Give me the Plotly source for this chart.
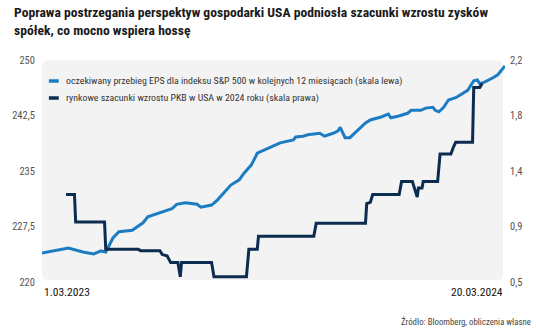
import plotly.graph_objects as go

# Expected S&P 500 EPS over the next 12 months (left scale)
eps_dates = [
    "2023-03-01", "2023-03-07", "2023-03-13", "2023-03-23", "2023-04-04", "2023-04-13",
    "2023-04-19", "2023-04-23", "2023-04-29", "2023-05-04", "2023-05-15", "2023-05-19",
    "2023-05-24", "2023-05-28", "2023-06-09", "2023-06-17", "2023-06-21", "2023-06-28",
    "2023-07-08", "2023-07-11", "2023-07-20", "2023-07-25", "2023-08-05", "2023-08-12",
    "2023-08-16", "2023-08-22", "2023-08-27", "2023-08-31", "2023-09-07", "2023-09-15",
    "2023-09-26", "2023-09-28", "2023-10-04", "2023-10-08", "2023-10-18", "2023-10-22",
    "2023-10-29", "2023-11-02", "2023-11-04", "2023-11-08", "2023-11-12", "2023-11-16",
    "2023-11-25", "2023-11-29", "2023-12-08", "2023-12-14", "2023-12-16", "2023-12-22",
    "2023-12-30", "2024-01-02", "2024-01-10", "2024-01-14", "2024-01-20", "2024-01-22",
    "2024-01-25", "2024-01-29", "2024-02-02", "2024-02-08", "2024-02-14", "2024-02-18",
    "2024-02-23", "2024-02-26", "2024-02-28", "2024-03-03", "2024-03-10", "2024-03-14",
    "2024-03-20",
]
eps_values = [
    223.9, 224.1, 224.3, 224.6, 224.05, 223.8,
    224.2, 224.05, 225.95, 226.8, 227.0, 227.4,
    228.0, 228.8, 229.5, 229.9, 230.5, 230.7,
    230.5, 230.1, 230.4, 231.1, 233.1, 233.8,
    234.7, 235.8, 237.4, 237.7, 238.2, 238.8,
    239.2, 239.6, 239.7, 239.9, 240.1, 239.7,
    240.1, 240.4, 240.9, 239.5, 239.5, 240.1,
    241.5, 241.9, 242.3, 242.7, 242.2, 242.4,
    242.8, 243.2, 243.2, 243.5, 243.6, 243.2,
    243.0, 243.6, 244.6, 244.9, 245.5, 245.9,
    247.2, 247.3, 246.8, 247.0, 247.6, 248.0,
    249.2,
]

# Market estimates of 2024 US GDP growth (right scale)
gdp_dates = [
    "2023-03-21", "2023-03-28", "2023-03-29", "2023-04-22", "2023-04-23", "2023-05-20",
    "2023-05-22", "2023-06-07", "2023-06-09", "2023-06-13", "2023-06-16", "2023-06-22",
    "2023-06-24", "2023-06-25", "2023-07-20", "2023-07-22", "2023-08-18", "2023-08-20",
    "2023-08-27", "2023-08-28", "2023-10-13", "2023-10-15", "2023-11-25", "2023-11-26",
    "2023-11-29", "2023-12-01", "2023-12-23", "2023-12-25", "2024-01-03", "2024-01-07",
    "2024-01-08", "2024-01-11", "2024-01-12", "2024-01-24", "2024-01-26", "2024-02-04",
    "2024-02-06", "2024-02-08", "2024-02-22", "2024-02-23", "2024-02-28", "2024-03-01",
]
gdp_values = [
    1.17, 1.17, 0.96, 0.96, 0.75, 0.75,
    0.74, 0.74, 0.71, 0.70, 0.65, 0.65,
    0.54, 0.65, 0.65, 0.54, 0.54, 0.75,
    0.75, 0.85, 0.85, 0.95, 0.95, 1.10,
    1.11, 1.17, 1.17, 1.27, 1.27, 1.15,
    1.22, 1.22, 1.27, 1.27, 1.48, 1.48,
    1.53, 1.57, 1.57, 1.99, 1.99, 2.02,
]

left_ticks = [220, 227.5, 235, 242.5, 250]
left_labels = ["220", "227,5", "235", "242,5", "250"]
right_ticks = [0.5, 0.925, 1.35, 1.775, 2.2]
right_labels = ["0,5", "0,9", "1,4", "1,8", "2,2"]

date_start = "2023-03-01"
date_end = "2024-03-20"
date_labels = ["1.03.2023", "20.03.2024"]

eps_name = "oczekiwany przebieg EPS dla indeksu S&P 500 w kolejnych 12 miesiącach (skala lewa)"
gdp_name = "rynkowe szacunki wzrostu PKB w USA w 2024 roku (skala prawa)"
title_text = ("Poprawa postrzegania perspektyw gospodarki USA podniosła szacunki wzrostu zysków"
              "<br>spółek, co mocno wspiera hossę")
source_text = "Źródło: Bloomberg, obliczenia własne"

BLUE = "#1c7cc2"
NAVY = "#0c2d50"
BG = "#f3f3f4"
FONT = "Roboto Condensed"

W, H = 536, 331
ML, MR, MT, MB = 35, 31, 60, 49
PW, PH = W - ML - MR, H - MT - MB


def px(x):
    return (x - ML) / PW


def py(y):
    return 1 - (y - MT) / PH


def rounded_rect(x0, y0, x1, y1, r):
    # path in paper coordinates built from pixel corners
    pts = [
        f"M{px(x0 + r)},{py(y0)}",
        f"L{px(x1 - r)},{py(y0)}",
        f"Q{px(x1)},{py(y0)} {px(x1)},{py(y0 + r)}",
        f"L{px(x1)},{py(y1 - r)}",
        f"Q{px(x1)},{py(y1)} {px(x1 - r)},{py(y1)}",
        f"L{px(x0 + r)},{py(y1)}",
        f"Q{px(x0)},{py(y1)} {px(x0)},{py(y1 - r)}",
        f"L{px(x0)},{py(y0 + r)}",
        f"Q{px(x0)},{py(y0)} {px(x0 + r)},{py(y0)}",
        "Z",
    ]
    return " ".join(pts)


fig = go.Figure()

fig.add_trace(go.Scatter(
    x=gdp_dates, y=gdp_values, name=gdp_name, yaxis="y2", mode="lines",
    line=dict(color=NAVY, width=3), showlegend=False,
))
fig.add_trace(go.Scatter(
    x=eps_dates, y=eps_values, name=eps_name, yaxis="y", mode="lines",
    line=dict(color=BLUE, width=3), showlegend=False,
))

shapes = [dict(type="path", xref="paper", yref="paper", layer="below",
               path=rounded_rect(35, 60, 503, 280, 6),
               fillcolor=BG, line=dict(width=0))]

annotations = [dict(text=title_text, xref="paper", yref="paper", x=px(5), y=py(2),
                    xanchor="left", yanchor="top", align="left", showarrow=False,
                    font=dict(family=FONT, size=13.6, color="#1a1a1a", weight="bold"))]

# legend entries: short dash + label
legend_rows = [(eps_name, BLUE, 81), (gdp_name, NAVY, 98)]
for label, color, ypix in legend_rows:
    shapes.append(dict(type="line", xref="paper", yref="paper",
                       x0=px(42), x1=px(52), y0=py(ypix), y1=py(ypix),
                       line=dict(color=color, width=3.5)))
    annotations.append(dict(text=label, xref="paper", yref="paper",
                            x=px(57), y=py(ypix), xanchor="left", yanchor="middle",
                            showarrow=False, font=dict(family=FONT, size=9.9, color="#333")))

for d, lab, anchor in [(date_start, date_labels[0], "left"), (date_end, date_labels[1], "right")]:
    annotations.append(dict(text=lab, xref="x", yref="paper", x=d, y=py(283),
                            xanchor=anchor, yanchor="top", showarrow=False,
                            font=dict(family=FONT, size=11.5, color="#111")))

annotations.append(dict(text=source_text, xref="paper", yref="paper",
                        x=px(533), y=py(321), xanchor="right", yanchor="middle",
                        showarrow=False, font=dict(family=FONT, size=8.8, color="#444")))

fig.update_layout(
    width=W, height=H, autosize=False,
    margin=dict(l=ML, r=MR, t=MT, b=MB, pad=0),
    paper_bgcolor="white", plot_bgcolor="rgba(0,0,0,0)",
    xaxis=dict(type="date", range=[date_start, date_end], visible=False),
    yaxis=dict(range=[220, 250], tickvals=left_ticks, ticktext=left_labels,
               showgrid=False, zeroline=False, showline=False, ticks="",
               ticklabelstandoff=6,
               tickfont=dict(family=FONT, size=10.5, color="#555")),
    yaxis2=dict(range=[0.5, 2.2], tickvals=right_ticks, ticktext=right_labels,
                overlaying="y", side="right", showgrid=False, zeroline=False,
                showline=False, ticks="", ticklabelstandoff=4,
                tickfont=dict(family=FONT, size=10.5, color="#555")),
    shapes=shapes, annotations=annotations,
)

fig.write_html("out.html")
